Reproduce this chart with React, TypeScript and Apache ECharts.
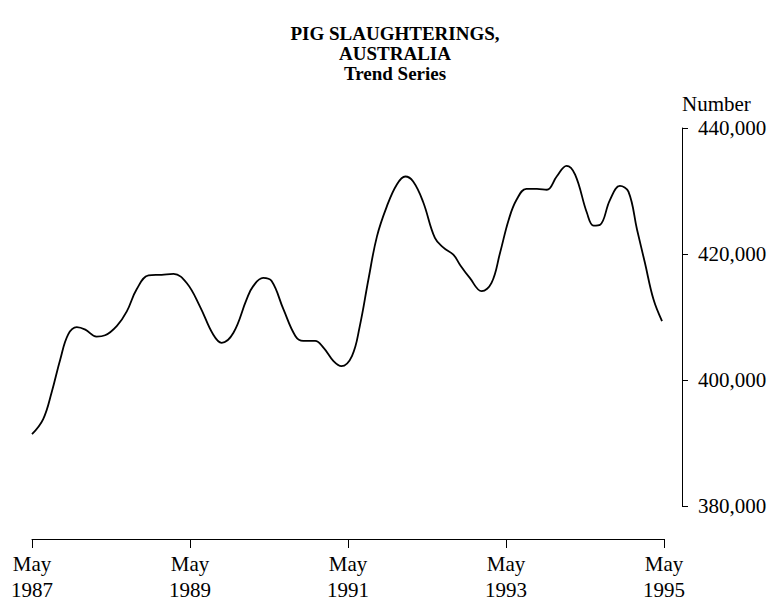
import React, { useEffect, useRef } from "react";
import * as echarts from "echarts";

// Months since May 1987 at which the trend curve was read
const months = [
  0, 1.7, 3.0, 4.3, 5.5, 6.8, 8.1, 9.8, 11.1, 12.9, 14.4, 15.9, 17.7, 19.7, 21.5, 23.5,
  25.5, 27.5, 28.8, 30.6, 32.6, 33.6, 35.1, 36.4, 38.2, 40.0, 41.2, 43.0, 44.3, 45.8, 47.0,
  48.6, 49.8, 51.1, 52.4, 53.9, 55.4, 56.7, 57.9, 59.4, 61.2, 62.5, 64.0, 65.0, 66.5, 68.3,
  69.8, 71.1, 72.4, 73.6, 75.1, 76.7, 78.2, 79.7, 81.2, 82.5, 84.3, 85.3, 86.3, 87.8, 89.3,
  90.6, 91.9, 93.1, 94.4, 95.7,
];

// Pig slaughterings, trend series (number)
const slaughterings = [
  391400, 393800, 398100, 403300, 407250, 408400, 408000, 406900, 407100, 408600, 410900,
  414400, 416600, 416700, 416850, 415400, 411700, 407250, 405900, 407500, 412800, 414900,
  416200, 415700, 411200, 407000, 406200, 406200, 405100, 403000, 402200, 403800, 408600,
  415950, 422800, 427550, 431000, 432300, 431500, 428300, 422550, 421000, 419900, 418300,
  416200, 414100, 415400, 420200, 425400, 428600, 430350, 430350, 430200, 432300, 434000,
  432600, 426500, 424500, 424650, 428600, 430800, 429900, 423900, 418600, 412800, 409350,
];

const xTickLabels = ["May\n1987", "May\n1989", "May\n1991", "May\n1993", "May\n1995"];
const yTickValues = [380000, 400000, 420000, 440000];

const FONT = "'Liberation Serif', 'Times New Roman', serif";

export default function App() {
  const ref = useRef<HTMLDivElement>(null);

  useEffect(() => {
    if (!ref.current) return;
    const chart = echarts.init(ref.current, undefined, { renderer: "svg" });
    const data = months.map((m, i) => [m, slaughterings[i]]);
    chart.setOption({
      animation: false,
      backgroundColor: "#ffffff",
      title: {
        text: "PIG SLAUGHTERINGS,\nAUSTRALIA\nTrend Series",
        left: 390,
        top: 18,
        textAlign: "center",
        textStyle: {
          fontFamily: FONT,
          fontWeight: "bold",
          fontSize: 19,
          lineHeight: 20,
          color: "#000",
        },
      },
      grid: { left: 32, right: 116, top: 128, bottom: 96 },
      xAxis: {
        type: "value",
        min: 0,
        max: 96,
        interval: 24,
        position: "bottom",
        offset: 33,
        splitLine: { show: false },
        axisLine: { show: true, onZero: false, lineStyle: { color: "#000", width: 1 } },
        axisTick: { show: true, length: 9, lineStyle: { color: "#000" } },
        axisLabel: {
          margin: 12,
          fontFamily: FONT,
          fontSize: 21,
          lineHeight: 26,
          color: "#000",
          formatter: (v: number) => xTickLabels[Math.round(v / 24)] ?? "",
        },
      },
      yAxis: {
        type: "value",
        position: "right",
        offset: 18,
        min: yTickValues[0],
        max: yTickValues[yTickValues.length - 1],
        interval: 20000,
        name: "Number",
        nameLocation: "end",
        nameGap: 14,
        nameTextStyle: {
          fontFamily: FONT,
          fontSize: 21,
          color: "#000",
          align: "left",
          verticalAlign: "bottom",
        },
        splitLine: { show: false },
        axisLine: { show: true, onZero: false, lineStyle: { color: "#000", width: 1 } },
        axisTick: { show: true, length: 6, lineStyle: { color: "#000" } },
        axisLabel: {
          margin: 16,
          fontFamily: FONT,
          fontSize: 21,
          color: "#000",
          formatter: (v: number) => v.toLocaleString("en-US"),
        },
      },
      series: [
        {
          type: "line",
          data,
          smooth: 0.4,
          showSymbol: false,
          lineStyle: { color: "#000", width: 1.8 },
        },
      ],
    });
    return () => chart.dispose();
  }, []);

  return (
    <div
      ref={ref}
      style={{ position: "fixed", left: 0, top: 0, width: 780, height: 603, background: "#fff" }}
    />
  );
}
